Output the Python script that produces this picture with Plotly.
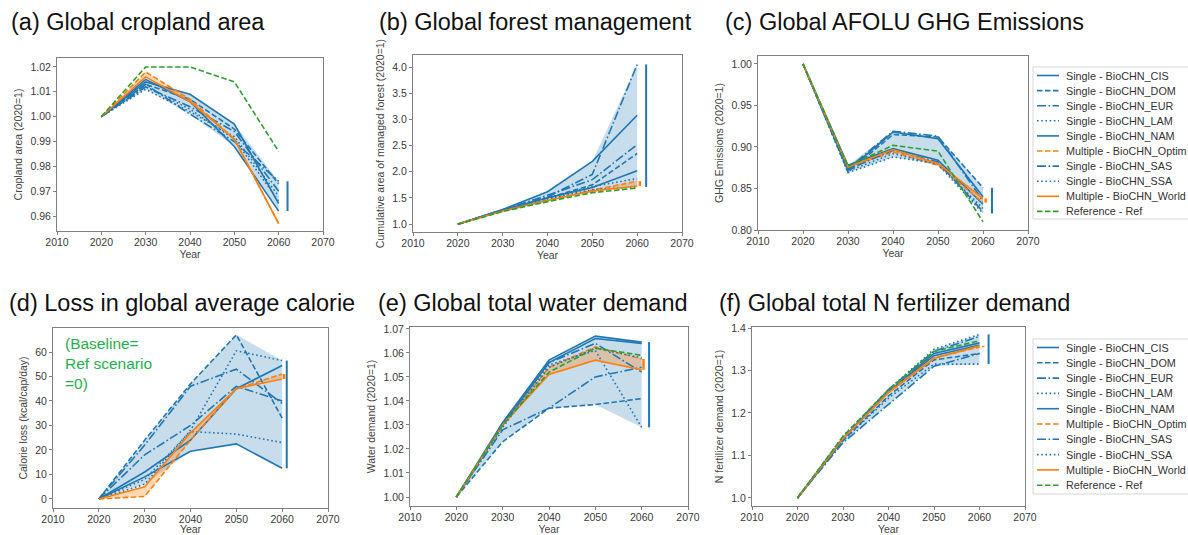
import plotly.graph_objects as go

# ---------------- data ----------------
YEARS = [2020, 2030, 2040, 2050, 2060]

SCENARIOS = [
    "Single - BioCHN_CIS", "Single - BioCHN_DOM", "Single - BioCHN_EUR",
    "Single - BioCHN_LAM", "Single - BioCHN_NAM", "Multiple - BioCHN_Optim",
    "Single - BioCHN_SAS", "Single - BioCHN_SSA", "Multiple - BioCHN_World",
    "Reference - Ref",
]

# rows follow SCENARIOS order, columns follow YEARS
CROPLAND = [
    [1.0, 1.014, 1.009, 0.997, 0.965],
    [1.0, 1.013, 1.007, 0.995, 0.973],
    [1.0, 1.012, 1.004, 0.994, 0.970],
    [1.0, 1.011, 1.002, 0.992, 0.968],
    [1.0, 1.015, 1.006, 0.988, 0.962],
    [1.0, 1.018, 1.007, 0.991, 0.957],
    [1.0, 1.013, 1.001, 0.990, 0.974],
    [1.0, 1.012, 1.003, 0.991, 0.966],
    [1.0, 1.016, 1.006, 0.991, 0.957],
    [1.0, 1.020, 1.020, 1.014, 0.986],
]

FOREST = [
    [1.0, 1.28, 1.62, 2.20, 3.08],
    [1.0, 1.27, 1.50, 1.75, 2.35],
    [1.0, 1.27, 1.52, 1.95, 4.05],
    [1.0, 1.26, 1.50, 1.72, 1.87],
    [1.0, 1.27, 1.50, 1.70, 2.02],
    [1.0, 1.25, 1.46, 1.65, 1.82],
    [1.0, 1.27, 1.55, 1.85, 2.52],
    [1.0, 1.26, 1.48, 1.66, 1.71],
    [1.0, 1.25, 1.45, 1.63, 1.73],
    [1.0, 1.24, 1.43, 1.60, 1.69],
]

GHG = [
    [1.0, 0.872, 0.918, 0.910, 0.840],
    [1.0, 0.870, 0.915, 0.912, 0.851],
    [1.0, 0.874, 0.919, 0.913, 0.835],
    [1.0, 0.869, 0.888, 0.880, 0.826],
    [1.0, 0.878, 0.898, 0.884, 0.831],
    [1.0, 0.876, 0.894, 0.878, 0.833],
    [1.0, 0.873, 0.896, 0.882, 0.822],
    [1.0, 0.871, 0.892, 0.879, 0.820],
    [1.0, 0.876, 0.897, 0.880, 0.838],
    [1.0, 0.877, 0.902, 0.895, 0.810],
]

# calorie loss relative to the Ref scenario (Ref itself = 0, not drawn)
CALORIE = [
    [0.0, 11.0, 24.0, 45.0, 54.5],
    [0.0, 24.0, 47.0, 67.0, 33.0],
    [0.0, 22.0, 46.0, 53.0, 39.0],
    [0.0, 8.0, 27.5, 26.5, 23.0],
    [0.0, 9.0, 19.5, 22.5, 12.5],
    [0.0, 1.0, 24.0, 45.0, 51.0],
    [0.0, 18.0, 30.0, 46.0, 40.0],
    [0.0, 6.0, 28.0, 60.5, 56.5],
    [0.0, 5.0, 27.0, 45.0, 49.0],
    None,
]

WATER = [
    [1.0, 1.031, 1.057, 1.067, 1.0645],
    [1.0, 1.023, 1.037, 1.0385, 1.041],
    [1.0, 1.028, 1.037, 1.050, 1.054],
    [1.0, 1.030, 1.055, 1.061, 1.029],
    [1.0, 1.030, 1.056, 1.066, 1.064],
    [1.0, 1.030, 1.054, 1.0625, 1.0575],
    [1.0, 1.030, 1.056, 1.064, 1.052],
    [1.0, 1.029, 1.054, 1.062, 1.058],
    [1.0, 1.030, 1.051, 1.057, 1.053],
    [1.0, 1.030, 1.052, 1.062, 1.059],
]

NFERT = [
    [1.0, 1.140, 1.250, 1.335, 1.360],
    [1.0, 1.135, 1.240, 1.325, 1.340],
    [1.0, 1.130, 1.220, 1.310, 1.340],
    [1.0, 1.145, 1.255, 1.350, 1.385],
    [1.0, 1.140, 1.250, 1.340, 1.365],
    [1.0, 1.140, 1.250, 1.330, 1.355],
    [1.0, 1.140, 1.255, 1.345, 1.380],
    [1.0, 1.135, 1.235, 1.315, 1.315],
    [1.0, 1.140, 1.248, 1.328, 1.358],
    [1.0, 1.145, 1.255, 1.345, 1.370],
]

TITLES = [
    "(a) Global cropland area", "(b) Global forest management",
    "(c) Global AFOLU GHG Emissions", "(d) Loss in global average calorie",
    "(e) Global total water demand", "(f) Global total N fertilizer demand",
]
YLABELS = [
    "Cropland area (2020=1)", "Cumulative area of managed forest (2020=1)",
    "GHG Emissions (2020=1)", "Calorie loss (kcal/cap/day)",
    "Water demand (2020=1)", "N fertilizer demand (2020=1)",
]
XTICKS = [2010, 2020, 2030, 2040, 2050, 2060, 2070]
YTICKS = [
    [0.96, 0.97, 0.98, 0.99, 1.00, 1.01, 1.02],
    [1.0, 1.5, 2.0, 2.5, 3.0, 3.5, 4.0],
    [0.80, 0.85, 0.90, 0.95, 1.00],
    [0, 10, 20, 30, 40, 50, 60],
    [1.00, 1.01, 1.02, 1.03, 1.04, 1.05, 1.06, 1.07],
    [1.0, 1.1, 1.2, 1.3, 1.4],
]
NOTE_TEXT = "(Baseline=<br>Ref scenario<br>=0)"

# ---------------- styling ----------------
W, H = 1188, 535
BLUE, ORANGE, GREEN = "#1f77b4", "#ff7f0e", "#2ca02c"
DASH = "5.5px,2.5px"
DOT = "1.6px,2.6px"
DASHDOT = "9px,2.5px,1.6px,2.5px"
STYLES = [
    (BLUE, "solid"), (BLUE, DASH), (BLUE, DASHDOT), (BLUE, DOT), (BLUE, "solid"),
    (ORANGE, DASH), (BLUE, DASHDOT), (BLUE, DOT), (ORANGE, "solid"), (GREEN, DASH),
]
SINGLE_IDX = [0, 1, 2, 3, 4, 6, 7]
MULTI_IDX = [5, 8]

# panel boxes in pixels: (left, right, top, bottom)
BOXES = [
    (57, 323, 58, 231), (413, 682, 55, 232), (758, 1028, 56, 230),
    (53, 328, 328, 508), (410, 688, 327, 506), (752, 1025, 327, 506),
]
YRANGES = [
    [0.954, 1.0236], [0.85, 4.23], [0.80, 1.0096],
    [-3.7, 69.8], [0.99625, 1.0708], [0.981, 1.4024],
]
YFMT = [".2f", ".1f", ".2f", "d", ".2f", ".1f"]
TITLE_POS = [(9, 22), (377, 22), (723, 22), (7, 303), (376, 303), (717, 303)]
BAR_X = [(2062, 2060.7), (2062, 2060.6), (2062, 2060.6),
         (2061, 2060.4), (2061.6, 2060.4), (2062, 2060.8)]
# legend boxes: (box top, box bottom, first entry y, entry step)
LEGEND_BOXES = [(67, 219, 75.5, 15.1), (339, 494, 347.5, 15.3)]

PANELS = [CROPLAND, FOREST, GHG, CALORIE, WATER, NFERT]

fig = go.Figure()
FONT = "Liberation Sans, Arial, sans-serif"
AX_COLOR = "#808080"
TICK_COLOR = "#3a3a3a"

for p, data in enumerate(PANELS):
    xa = "x" if p == 0 else f"x{p+1}"
    ya = "y" if p == 0 else f"y{p+1}"

    singles = [data[i] for i in SINGLE_IDX]
    smax = [max(s[k] for s in singles) for k in range(len(YEARS))]
    smin = [min(s[k] for s in singles) for k in range(len(YEARS))]
    multis = [data[i] for i in MULTI_IDX]
    mmax = [max(s[k] for s in multis) for k in range(len(YEARS))]
    mmin = [min(s[k] for s in multis) for k in range(len(YEARS))]

    # shaded ranges
    fig.add_trace(go.Scatter(
        x=YEARS + YEARS[::-1], y=smax + smin[::-1], fill="toself",
        fillcolor="rgba(31,119,180,0.25)", line=dict(width=0),
        mode="lines", hoverinfo="skip", showlegend=False, xaxis=xa, yaxis=ya))
    fig.add_trace(go.Scatter(
        x=YEARS + YEARS[::-1], y=mmax + mmin[::-1], fill="toself",
        fillcolor="rgba(255,127,14,0.30)", line=dict(width=0),
        mode="lines", hoverinfo="skip", showlegend=False, xaxis=xa, yaxis=ya))

    for i, name in enumerate(SCENARIOS):
        vals = data[i]
        if vals is None:
            continue
        color, dash = STYLES[i]
        fig.add_trace(go.Scatter(
            x=YEARS, y=vals, name=name, mode="lines",
            line=dict(color=color, dash=dash, width=1.6),
            showlegend=False, xaxis=xa, yaxis=ya))

    # range bars at the end of the horizon
    bx, ox = BAR_X[p]
    fig.add_trace(go.Scatter(
        x=[bx, bx], y=[smin[-1], smax[-1]], mode="lines",
        line=dict(color=BLUE, width=2), showlegend=False, hoverinfo="skip",
        xaxis=xa, yaxis=ya))
    fig.add_trace(go.Scatter(
        x=[ox, ox], y=[mmin[-1], mmax[-1]], mode="lines",
        line=dict(color=ORANGE, width=2.5), showlegend=False, hoverinfo="skip",
        xaxis=xa, yaxis=ya))

    l, r, t, b = BOXES[p]
    axis_common = dict(
        showline=True, mirror=True, linecolor=AX_COLOR, linewidth=1,
        ticks="outside", ticklen=3, tickcolor=AX_COLOR, showgrid=False,
        zeroline=False, tickfont=dict(family=FONT, size=10.5, color=TICK_COLOR),
    )
    xkey = "xaxis" if p == 0 else f"xaxis{p+1}"
    ykey = "yaxis" if p == 0 else f"yaxis{p+1}"
    fig.update_layout({
        xkey: dict(axis_common, domain=[l / W, r / W], range=[2010, 2070],
                   tickvals=XTICKS, anchor=ya, ticklabelstandoff=-2,
                   title=dict(text="Year", standoff=2,
                              font=dict(family=FONT, size=10.5, color="#444"))),
        ykey: dict(axis_common, domain=[1 - b / H, 1 - t / H], range=YRANGES[p],
                   tickvals=YTICKS[p], tickformat=YFMT[p], anchor=xa,
                   title=dict(text=YLABELS[p], standoff=5,
                              font=dict(family=FONT, size=10.5, color="#444"))),
    })

    tx, ty = TITLE_POS[p]
    fig.add_annotation(text=TITLES[p], xref="paper", yref="paper",
                       x=tx / W, y=1 - ty / H, xanchor="left", yanchor="middle",
                       showarrow=False, font=dict(family=FONT, size=23.5, color="#111"))

fig.add_annotation(text=NOTE_TEXT, xref="paper", yref="paper",
                   x=63 / W, y=1 - 363 / H, xanchor="left", yanchor="middle",
                   align="left", showarrow=False,
                   font=dict(family=FONT, size=15.5, color="#21b34b"))

# legends (one beside each row), entries styled like the traces
for btop, bbot, first, step in LEGEND_BOXES:
    fig.add_shape(type="rect", xref="paper", yref="paper",
                  x0=1033 / W, x1=1.02, y0=1 - bbot / H, y1=1 - btop / H,
                  line=dict(color="#d6d6d6", width=1), fillcolor="white",
                  layer="above")
    for i, name in enumerate(SCENARIOS):
        yy = 1 - (first + i * step) / H
        color, dash = STYLES[i]
        fig.add_shape(type="line", xref="paper", yref="paper",
                      x0=1037 / W, x1=1059 / W, y0=yy, y1=yy,
                      line=dict(color=color, dash=dash, width=1.6), layer="above")
        fig.add_annotation(text=name, xref="paper", yref="paper",
                           x=1064 / W, y=yy, xanchor="left", yanchor="middle",
                           showarrow=False,
                           font=dict(family=FONT, size=10.8, color="#333"))

fig.update_layout(
    width=W, height=H,
    margin=dict(l=0, r=0, t=0, b=0, autoexpand=False),
    paper_bgcolor="white", plot_bgcolor="white",
    showlegend=False,
)

fig.write_html("out.html",
               config={"displayModeBar": False},
               post_script="document.body.style.margin='0';"
                           "document.body.style.overflow='hidden';")
